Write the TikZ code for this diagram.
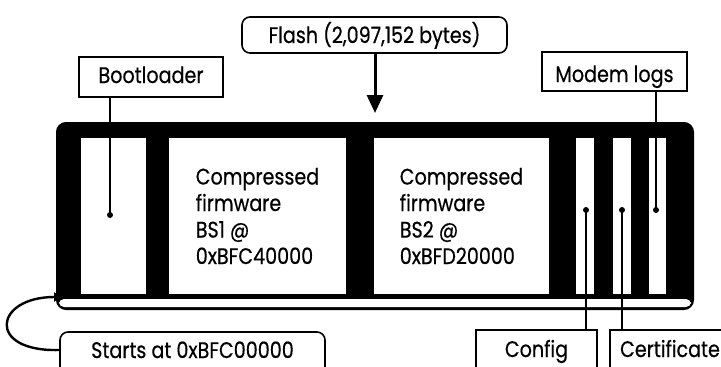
\documentclass[tikz,border=0pt]{standalone}
\usepackage{fontspec}
\setmainfont{Poppins}[FakeStretch=0.85,FakeBold=0.5]
\usetikzlibrary{arrows.meta}
\begin{document}
\begin{tikzpicture}[x=1pt,y=-1pt,
  every node/.style={font=\fontsize{22.5}{26.5}\selectfont},
  lbl/.style={draw, line width=1.6pt, fill=white, inner sep=0pt, anchor=base},
  slab/.style={draw, line width=1.2pt, fill=white, inner sep=0pt},
  conn/.style={line width=1.8pt},
  dotc/.style={circle, fill=black, inner sep=0pt, minimum size=6pt}]
\useasboundingbox (0,0) rectangle (721,367);
% flash body
\filldraw[line width=2pt, rounded corners=9pt] (57,123) rectangle (693,309);
\fill[white, rounded corners=5pt] (59,299) rectangle (691,307);
% slots
\draw[slab] (80,137) rectangle (147,295);
\node[slab, minimum width=179pt, minimum height=158pt, align=left] (bs1) at (257.5,216) {Compressed\\firmware\\BS1 @\\0xBFC40000};
\node[slab, minimum width=177pt, minimum height=158pt, align=left] (bs2) at (461.5,216) {Compressed\\firmware\\BS2 @\\0xBFD20000};
\draw[slab] (575,137) rectangle (595,295);
\draw[slab] (612,137) rectangle (632,295);
\draw[slab] (648,137) rectangle (667,295);
% labels
\node[lbl, rounded corners=8pt, minimum width=265pt, text height=26pt, text depth=10pt] (flash) at (374.5,43) {Flash (2,097,152 bytes)};
\node[lbl, minimum width=144pt, text height=26pt, text depth=14pt] (boot) at (151,83) {Bootloader};
\node[lbl, minimum width=145pt, text height=30pt, text depth=9pt] (modem) at (614.5,82) {Modem logs};
\node[lbl, minimum width=121pt, text height=27pt, text depth=23pt] (config) at (536.5,357) {Config};
\node[lbl, minimum width=120pt, text height=27pt, text depth=23pt] (cert) at (670,357) {Certificate};
\node[lbl, rounded corners=8pt, minimum width=265pt, text height=26pt, text depth=27pt] (starts) at (192.5,358) {Starts at 0xBFC00000};
% dots
\node[dotc] (bootdot) at (110,215) {};
\node[dotc] (modemdot) at (656,210) {};
\node[dotc] (configdot) at (586,210) {};
\node[dotc] (certdot) at (622,210) {};
\coordinate (flashtip) at (375,113);
\coordinate (corner) at (62,297);
% connectors
\draw[conn] (bootdot |- boot.south) -- (bootdot.center);
\draw[conn] (modemdot |- modem.south) -- (modemdot.center);
\draw[conn] (configdot |- config.north) -- (configdot.center);
\draw[conn] (certdot |- cert.north) -- (certdot.center);
\draw[line width=3pt, -{Triangle[width=16pt,length=18pt]}] (flashtip |- flash.south) -- (flashtip);
\draw[line width=2.4pt, -{Triangle[width=9pt,length=8pt]}] ([yshift=8.5pt]starts.west) .. controls (-14,352) and (-6,297) .. (corner);
\end{tikzpicture}
\end{document}
